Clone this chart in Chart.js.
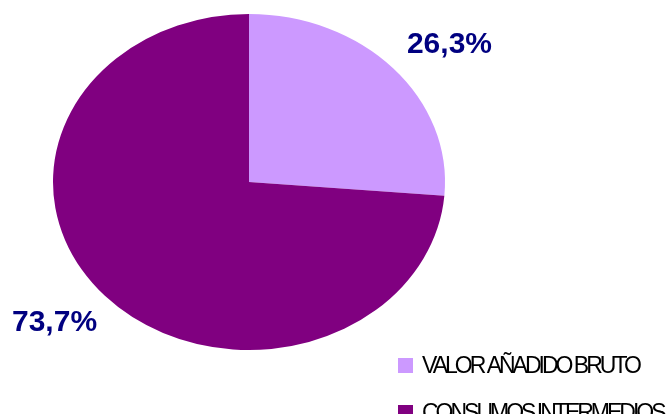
<!DOCTYPE html>
<html>
<head>
<meta charset="utf-8">
<script src="https://cdn.jsdelivr.net/npm/chart.js@4"></script>
<style>
    html, body { margin: 0; padding: 0; background: #fff; }
    #pie { display: block; }
</style>
</head>
<body>
<canvas id="pie" width="670" height="414"></canvas>
<script>
(function () {
    'use strict';

    // ============================================================
    // DATA
    // ============================================================
    const categories = ['VALOR AÑADIDO BRUTO', 'CONSUMOS INTERMEDIOS'];
    const shares = [26.3, 73.7];
    const sliceColors = ['#CC99FF', '#800080'];

    const LABEL_COLOR = '#000080';
    const SQUASH = 168 / 196;   // flatten the pie into an ellipse
    const CENTER_Y = 182;       // where the flattened centre sits

    const fmt = (v) => v.toFixed(1).replace('.', ',') + '%';

    // ============================================================
    // PLUGINS
    // ============================================================
    const ellipsePlugin = {
        id: 'ellipse',
        beforeDatasetsDraw(chart) {
            const arc = chart.getDatasetMeta(0).data[0];
            const ctx = chart.ctx;
            ctx.save();
            ctx.translate(0, CENTER_Y);
            ctx.scale(1, SQUASH);
            ctx.translate(0, -arc.y);
        },
        afterDatasetsDraw(chart) {
            chart.ctx.restore();
        }
    };

    const pctLabels = {
        id: 'pctLabels',
        afterDraw(chart) {
            const ctx = chart.ctx;
            const arcs = chart.getDatasetMeta(0).data;
            ctx.save();
            ctx.font = 'bold 30px "Liberation Sans", Arial, sans-serif';
            ctx.fillStyle = LABEL_COLOR;
            ctx.textAlign = 'center';
            ctx.textBaseline = 'middle';
            arcs.forEach((arc, i) => {
                const mid = (arc.startAngle + arc.endAngle) / 2;
                const r = arc.outerRadius;
                const x = arc.x + Math.cos(mid) * r * 1.37 + 3;
                const y = CENTER_Y + Math.sin(mid) * r * SQUASH * 1.22 + 2;
                ctx.fillText(fmt(shares[i]), x, y);
            });
            ctx.restore();
        }
    };

    const legendBox = {
        id: 'legendBox',
        afterDraw(chart) {
            const ctx = chart.ctx;
            ctx.save();
            ctx.font = '23px "Liberation Sans", Arial, sans-serif';
            ctx.letterSpacing = '-3px';
            ctx.textBaseline = 'alphabetic';
            ctx.textAlign = 'left';
            categories.forEach((name, i) => {
                const top = 358 + i * 47;
                ctx.fillStyle = sliceColors[i];
                ctx.fillRect(398, top, 15, 15);
                ctx.fillStyle = '#000';
                ctx.fillText(name, 422, top + 15);
            });
            ctx.restore();
        }
    };

    // ============================================================
    // CHART
    // ============================================================
    new Chart(document.getElementById('pie'), {
        type: 'pie',
        data: {
            labels: categories,
            datasets: [{
                data: shares,
                backgroundColor: sliceColors,
                borderWidth: 0
            }]
        },
        options: {
            responsive: false,
            devicePixelRatio: 1,
            animation: false,
            layout: { padding: { left: 53, right: 225, top: 0, bottom: 0 } },
            plugins: {
                legend: { display: false },
                tooltip: { enabled: false }
            }
        },
        plugins: [ellipsePlugin, pctLabels, legendBox]
    });
})();
</script>
</body>
</html>
